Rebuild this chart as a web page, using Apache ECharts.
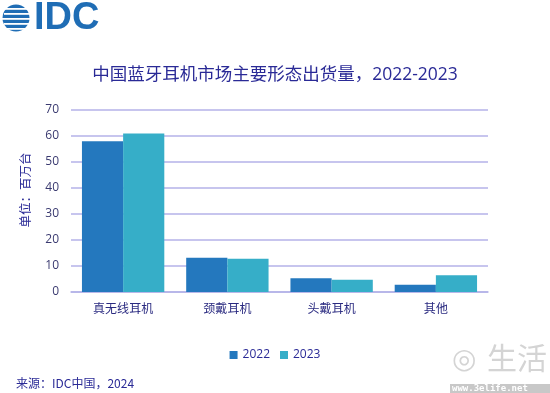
<!DOCTYPE html>
<html><head><meta charset="utf-8">
<script src="https://cdn.jsdelivr.net/npm/echarts@6/dist/echarts.min.js"></script>
<style>html,body{margin:0;padding:0;background:#fff}#c{width:550px;height:393px}</style>
</head><body><div id="c"></div>
<script>
const categories = ['真无线耳机', '颈戴耳机', '头戴耳机', '其他'];
const seriesNames = ['2022', '2023'];
const values2022 = [58, 13.2, 5.3, 2.8];
const values2023 = [61, 12.8, 4.7, 6.4];
const yTicks = [0, 10, 20, 30, 40, 50, 60, 70];

const font = '"Open Sans","Noto Sans CJK SC",sans-serif';
const chart = echarts.init(document.getElementById('c'));
const stripes = [];
[12, 17, 22, 27, 32].forEach((y, i) => stripes.push({type:'rect', shape:{x:14 + (i % 2) * 4, y:y, width:32, height:1.8}, style:{fill:'#fff'}}));
chart.setOption({
  animation: false,
  title: {
    text: '中国蓝牙耳机市场主要形态出货量，2022-2023',
    left: 'center', top: 61,
    textStyle: {fontFamily: font, fontSize: 17.5, fontWeight: 'normal', color: '#2a2a96'}
  },
  legend: {
    data: seriesNames, bottom: 27, left: 'center', itemWidth: 8, itemHeight: 8, itemGap: 10,
    icon: 'rect',
    textStyle: {fontFamily: font, fontSize: 12, color: '#2a2a96'}
  },
  grid: {left: 71, right: 62, top: 110, bottom: 101, containLabel: false},
  xAxis: {
    type: 'category', data: categories,
    axisLine: {lineStyle: {color: '#b4b2e8', width: 1.5}},
    axisTick: {show: false},
    axisLabel: {fontFamily: font, fontSize: 12, color: '#2a2a80', margin: 12}
  },
  yAxis: {
    type: 'value', min: 0, max: 70, interval: 10,
    axisLine: {show: false}, axisTick: {show: false},
    axisLabel: {fontFamily: font, fontSize: 12, color: '#3a3a70', margin: 12,
      formatter: v => yTicks.includes(v) ? String(v) : ''},
    splitLine: {lineStyle: {color: '#b4b2e8', width: 1.5}}
  },
  series: [
    {name: seriesNames[0], type: 'bar', data: values2022, barGap: '0%', barCategoryGap: '21%',
     itemStyle: {color: '#2478be'}},
    {name: seriesNames[1], type: 'bar', data: values2023, barGap: '0%', barCategoryGap: '21%',
     itemStyle: {color: '#36aec8'}}
  ],
  graphic: [
    {type:'group', left: 0, top: 0, children: [
      {type:'circle', shape:{cx:30, cy:22, r:13.5}, style:{fill:'#1f6db5'}},
      ...stripes,
      {type:'text', x:48, y:23, style:{text:'IDC', font:'bold 38px "Liberation Sans",Arial,sans-serif', fill:'#1f6db5', verticalAlign:'middle'}}
    ]},
    {type:'text', x: 25, y: 190, rotation: Math.PI / 2,
     style:{text:'单位：百万台', font:'12.5px "Noto Sans CJK SC",sans-serif', fill:'#2a2a96', align:'center', verticalAlign:'middle'}},
    {type:'text', left: 16, top: 377, style:{text:'来源：IDC中国，2024', font:'12px "Noto Sans CJK SC",sans-serif', fill:'#2a2a96'}},
    {type:'text', left: 452, top: 347, style:{text:'◎', font:'28px "DejaVu Sans",sans-serif', fill:'#d4d4d4'}},
    {type:'text', left: 487, top: 343, style:{text:'生活', font:'30px "Noto Sans CJK SC",sans-serif', fill:'#d4d4d4'}},
    {type:'rect', shape:{x:450, y:384, width:100, height:9}, style:{fill:'#c8c8c8'}},
    {type:'text', left: 452, top: 384, style:{text:'www.3elife.net', font:'bold 9px "DejaVu Sans Mono",monospace', fill:'#ffffff'}}
  ]
});
</script></body></html>
